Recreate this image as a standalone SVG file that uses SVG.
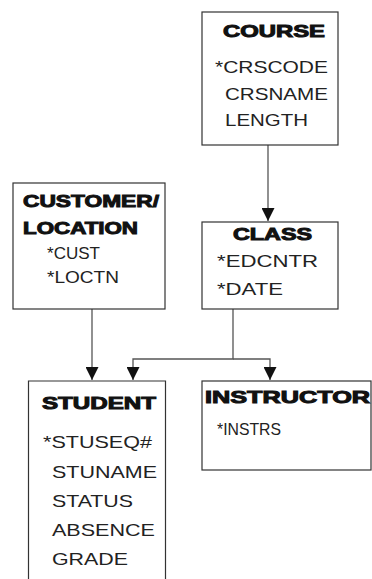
<svg xmlns="http://www.w3.org/2000/svg" width="372" height="579" viewBox="0 0 372 579">
<style>
.box{fill:#fff;stroke:#333;stroke-width:1.2}
.h{font-family:"Liberation Sans",Arial,sans-serif;font-weight:bold;font-size:17px;fill:#111;stroke:#111;stroke-width:1}
.t{font-family:"Liberation Sans",Arial,sans-serif;font-size:17px;fill:#222}
.c{fill:none;stroke:#555;stroke-width:1.3}
</style>
<defs>
<marker id="ah" markerUnits="userSpaceOnUse" markerWidth="13" markerHeight="13" refX="12" refY="6" orient="auto" viewBox="0 0 12 12">
<path d="M0,0 L12,6 L0,12 Z" fill="#111"/>
</marker>
</defs>
<rect width="372" height="579" fill="#fff"/>
<g id="connectors">
<path class="c" d="M268,145 V221" marker-end="url(#ah)"/>
<path class="c" d="M92,309 V380" marker-end="url(#ah)"/>
<path class="c" d="M233,309 V359 H133 V380" marker-end="url(#ah)"/>
<path class="c" d="M233,359 H270 V380" marker-end="url(#ah)"/>
</g>
<g id="course">
<rect class="box" x="202" y="12" width="136" height="133"/>
<text class="h" x="223" y="37" textLength="102" lengthAdjust="spacingAndGlyphs">COURSE</text>
<text class="t" x="215" y="73" textLength="113" lengthAdjust="spacingAndGlyphs">*CRSCODE</text>
<text class="t" x="225" y="100" textLength="103" lengthAdjust="spacingAndGlyphs">CRSNAME</text>
<text class="t" x="225" y="126" textLength="83" lengthAdjust="spacingAndGlyphs">LENGTH</text>
</g>
<g id="customer_location">
<rect class="box" x="13" y="183" width="152" height="126"/>
<text class="h" x="23" y="207" textLength="136" lengthAdjust="spacingAndGlyphs">CUSTOMER/</text>
<text class="h" x="23" y="234" textLength="115" lengthAdjust="spacingAndGlyphs">LOCATION</text>
<text class="t" x="47" y="259" textLength="53" lengthAdjust="spacingAndGlyphs">*CUST</text>
<text class="t" x="47" y="283" textLength="72" lengthAdjust="spacingAndGlyphs">*LOCTN</text>
</g>
<g id="class">
<rect class="box" x="202" y="222" width="136" height="87"/>
<text class="h" x="233" y="240" textLength="79" lengthAdjust="spacingAndGlyphs">CLASS</text>
<text class="t" x="217" y="267" textLength="101" lengthAdjust="spacingAndGlyphs">*EDCNTR</text>
<text class="t" x="217" y="295" textLength="66" lengthAdjust="spacingAndGlyphs">*DATE</text>
</g>
<g id="student">
<path class="box" d="M28.5,590 V381 H165.5 V590"/>
<text class="h" x="42" y="409" textLength="114" lengthAdjust="spacingAndGlyphs">STUDENT</text>
<text class="t" x="43" y="448" textLength="109" lengthAdjust="spacingAndGlyphs">*STUSEQ#</text>
<text class="t" x="52" y="478" textLength="105" lengthAdjust="spacingAndGlyphs">STUNAME</text>
<text class="t" x="52" y="507" textLength="81" lengthAdjust="spacingAndGlyphs">STATUS</text>
<text class="t" x="52" y="536" textLength="103" lengthAdjust="spacingAndGlyphs">ABSENCE</text>
<text class="t" x="52" y="565" textLength="76" lengthAdjust="spacingAndGlyphs">GRADE</text>
</g>
<g id="instructor">
<rect class="box" x="202" y="381" width="169" height="89"/>
<text class="h" x="205" y="403" textLength="165" lengthAdjust="spacingAndGlyphs">INSTRUCTOR</text>
<text class="t" x="217" y="435" textLength="64" lengthAdjust="spacingAndGlyphs">*INSTRS</text>
</g>
</svg>
